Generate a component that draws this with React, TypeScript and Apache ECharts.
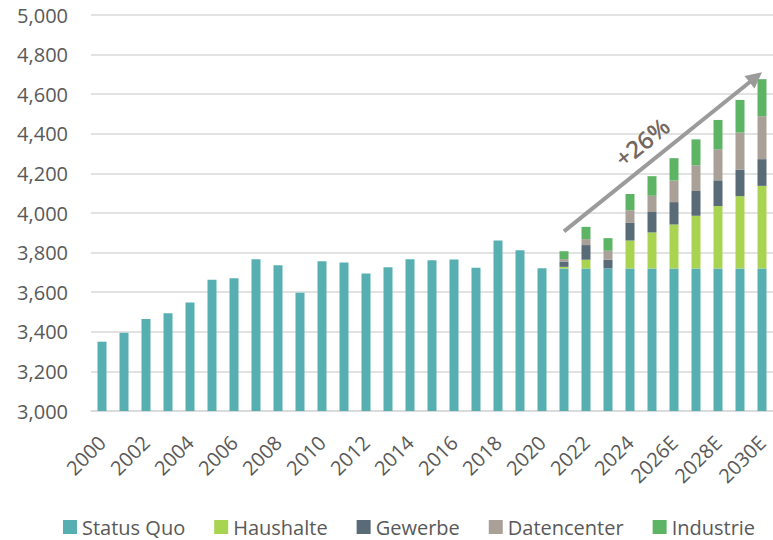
import React, { useEffect, useRef } from "react";
import * as echarts from "echarts";

const categories = [
  "2000", "2001", "2002", "2003", "2004", "2005", "2006", "2007", "2008", "2009",
  "2010", "2011", "2012", "2013", "2014", "2015", "2016", "2017", "2018", "2019",
  "2020", "2021", "2022", "2023", "2024", "2025E", "2026E", "2027E", "2028E", "2029E", "2030E",
];

const statusQuo = [
  3350, 3395, 3465, 3494, 3548, 3663, 3670, 3766, 3736, 3597,
  3756, 3750, 3695, 3726, 3766, 3761, 3765, 3724, 3861, 3812,
  3721, 3720, 3720, 3720, 3720, 3720, 3720, 3720, 3720, 3720, 3720,
];

const pre = Array(21).fill(null);
const haushalte = [...pre, 8, 44, 0, 141, 182, 222, 266, 315, 365, 417];
const gewerbe = [...pre, 27, 74, 44, 89, 103, 113, 125, 130, 133, 135];
const datencenter = [...pre, 12, 30, 45, 64, 82, 109, 130, 157, 188, 217];
const industrie = [...pre, 40, 62, 64, 82, 99, 113, 131, 148, 165, 187];

const seriesNames = ["Status Quo", "Haushalte", "Gewerbe", "Datencenter", "Industrie"];
const seriesColors = ["#58AFB1", "#A9D452", "#5A6B78", "#A9A097", "#5EB465"];

const yTicks = { min: 3000, max: 5000, interval: 200 };
const arrowFrom = [20.9, 3907];
const arrowTo = [29.55, 4711];
const growthLabel = "+26%";

const FONT = "'Open Sans', 'Noto Sans', sans-serif";
const TEXT = "#595959";

export default function App() {
  const ref = useRef<HTMLDivElement>(null);
  useEffect(() => {
    if (!ref.current) return;
    const chart = echarts.init(ref.current, null, { renderer: "svg" });
    const values = [statusQuo, haushalte, gewerbe, datencenter, industrie];
    chart.setOption({
      animation: false,
      textStyle: { fontFamily: FONT },
      grid: { left: 91, top: 15, width: 685, bottom: 129, containLabel: false },
      legend: {
        left: 63,
        top: 515,
        padding: 0,
        icon: "rect",
        itemWidth: 14,
        itemHeight: 14,
        itemGap: 29,
        textStyle: { fontSize: 20, color: TEXT, fontFamily: FONT, lineHeight: 24 },
        data: seriesNames,
      },
      xAxis: {
        type: "category",
        data: categories,
        axisLine: { lineStyle: { color: "#D9D9D9", width: 1.5 } },
        axisTick: { show: false },
        axisLabel: {
          interval: 1,
          rotate: 45,
          fontSize: 20,
          color: TEXT,
          margin: 28,
          fontFamily: FONT,
        },
      },
      yAxis: {
        type: "value",
        min: yTicks.min,
        max: yTicks.max,
        interval: yTicks.interval,
        axisLine: { show: false },
        axisTick: { show: false },
        splitLine: { lineStyle: { color: "#D9D9D9", width: 1.5 } },
        axisLabel: {
          fontSize: 20,
          color: TEXT,
          margin: 23,
          fontFamily: FONT,
          formatter: (v: number) => v.toLocaleString("en-US"),
        },
      },
      series: seriesNames.map((name, i) => ({
        name,
        type: "bar",
        stack: "total",
        barWidth: 9,
        itemStyle: { color: seriesColors[i] },
        data: values[i],
      })),
    });

    const p1 = chart.convertToPixel({ gridIndex: 0 }, arrowFrom) as number[];
    const p2 = chart.convertToPixel({ gridIndex: 0 }, arrowTo) as number[];
    const dx = p2[0] - p1[0];
    const dy = p2[1] - p1[1];
    const len = Math.sqrt(dx * dx + dy * dy);
    const ux = dx / len;
    const uy = dy / len;
    const nx = -uy;
    const ny = ux;
    const headLen = 16;
    const headHalf = 8;
    const base = [p2[0] - ux * headLen, p2[1] - uy * headLen];
    const angle = Math.atan2(-dy, dx);
    const mid = [p1[0] + dx * 0.46, p1[1] + dy * 0.46];
    const off = 21;
    const sgn = ny < 0 ? 1 : -1;
    chart.setOption({
      graphic: [
        {
          type: "line",
          shape: { x1: p1[0], y1: p1[1], x2: base[0] + ux * 2, y2: base[1] + uy * 2 },
          style: { stroke: "#9B9B9B", lineWidth: 4 },
          z: 100,
        },
        {
          type: "polygon",
          shape: {
            points: [
              [p2[0], p2[1]],
              [base[0] + nx * headHalf, base[1] + ny * headHalf],
              [base[0] - nx * headHalf, base[1] - ny * headHalf],
            ],
          },
          style: { fill: "#9B9B9B" },
          z: 100,
        },
        {
          type: "text",
          x: mid[0] + nx * off * sgn,
          y: mid[1] + ny * off * sgn,
          rotation: angle,
          style: {
            text: growthLabel,
            fontSize: 24,
            fontWeight: 600,
            fontFamily: FONT,
            fill: "#73675F",
            align: "center",
            verticalAlign: "middle",
          },
          z: 100,
        },
      ],
    });

    return () => chart.dispose();
  }, []);
  return (
    <div
      ref={ref}
      style={{ position: "absolute", left: 0, top: 0, width: 773, height: 540 }}
    />
  );
}
